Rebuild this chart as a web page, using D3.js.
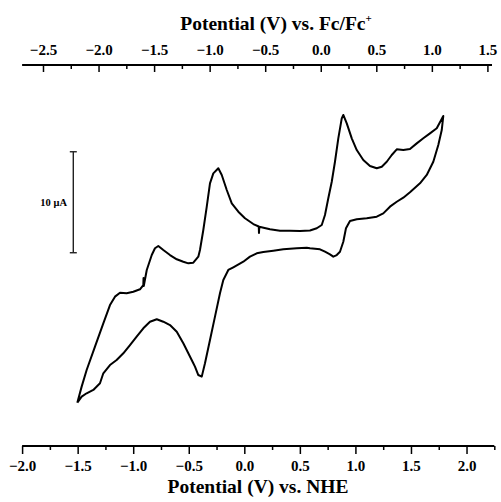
<!DOCTYPE html>
<html>
<head>
<meta charset="utf-8">
<script src="https://cdn.jsdelivr.net/npm/d3@7"></script>
<style>
  html, body { margin: 0; padding: 0; background: #fff; }
  svg { display: block; }
  text { font-family: "Liberation Serif", "Times New Roman", serif; font-weight: bold; fill: #000; }
</style>
</head>
<body>
<svg id="chart" width="501" height="502"></svg>
<script>
// ---- data (potential in V vs. NHE, current in µA) ----
const upperPotential = [-1.503,-1.464,-1.419,-1.344,-1.269,-1.209,-1.164,-1.119,-1.059,-0.999,-0.939,-0.909,-0.907,-0.905,-0.878,-0.833,-0.804,-0.774,-0.729,-0.669,-0.608,-0.549,-0.504,-0.459,-0.414,-0.399,-0.369,-0.338,-0.309,-0.279,-0.234,-0.203,-0.158,-0.113,-0.054,0.006,0.081,0.130,0.132,0.135,0.231,0.321,0.411,0.501,0.591,0.652,0.697,0.726,0.756,0.787,0.816,0.846,0.877,0.891,0.922,0.967,1.012,1.071,1.131,1.192,1.237,1.282,1.327,1.372,1.431,1.491,1.552,1.611,1.671,1.732,1.791];
const upperCurrent = [-16.11,-14.52,-12.87,-10.56,-8.25,-6.44,-5.61,-5.22,-5.28,-5.12,-4.88,-4.46,-3.76,-4.55,-2.97,-1.49,-0.82,-0.59,-0.99,-1.49,-1.91,-2.15,-2.31,-2.25,-1.65,-0.99,0.99,3.30,5.61,6.60,7.10,6.44,4.95,3.63,2.80,2.15,1.58,1.34,0.69,1.32,1.06,0.92,0.92,0.89,0.94,1.16,1.49,2.48,4.13,5.77,7.75,10.07,12.05,12.38,11.55,10.07,8.91,7.92,7.33,7.10,7.26,7.75,8.42,8.98,8.91,9.01,9.57,10.07,10.56,11.06,12.28];
const lowerPotential = [1.791,1.777,1.746,1.701,1.642,1.581,1.491,1.431,1.372,1.311,1.251,1.192,1.102,1.012,0.951,0.915,0.891,0.861,0.832,0.801,0.771,0.726,0.681,0.591,0.562,0.472,0.351,0.261,0.171,0.112,0.051,-0.009,-0.099,-0.144,-0.189,-0.219,-0.264,-0.309,-0.354,-0.383,-0.414,-0.444,-0.459,-0.504,-0.549,-0.608,-0.669,-0.729,-0.788,-0.849,-0.909,-0.969,-1.029,-1.089,-1.149,-1.209,-1.269,-1.299,-1.359,-1.419,-1.464,-1.503];
const lowerCurrent = [12.28,10.89,9.41,7.75,6.44,5.61,4.72,4.19,3.79,3.30,2.64,2.31,2.15,2.05,1.88,1.16,-0.17,-1.16,-1.49,-1.65,-1.42,-1.16,-0.92,-0.82,-0.76,-0.82,-0.92,-1.06,-1.19,-1.32,-1.65,-2.15,-2.70,-2.97,-3.96,-5.28,-7.59,-9.90,-12.21,-13.53,-13.37,-12.54,-12.21,-11.22,-10.23,-9.08,-8.42,-8.09,-7.85,-8.09,-8.74,-9.57,-10.40,-11.22,-11.88,-12.38,-13.20,-14.19,-14.85,-15.18,-15.51,-16.11];

const bottomTicks = [-2.0,-1.5,-1.0,-0.5,0.0,0.5,1.0,1.5,2.0];
const bottomMinorTicks = [-1.75,-1.25,-0.75,-0.25,0.25,0.75,1.25,1.75,2.25];
const topTicks = [-2.5,-2.0,-1.5,-1.0,-0.5,0.0,0.5,1.0,1.5];
const topMinorTicks = [-2.25,-1.75,-1.25,-0.75,-0.25,0.25,0.75,1.25];
const fcOffset = 0.688;           // E(Fc/Fc+) = E(NHE) - offset
const scaleBarValue = [-1.26, 8.74]; // 10 µA scale bar

const svg = d3.select("#chart");

const x = d3.scaleLinear().domain([-2.0, 2.25]).range([22.1, 494.3]);
const xTop = d3.scaleLinear().domain([-2.0 - fcOffset, 2.25 - fcOffset]).range([22.1, 494.3]);
const y = d3.scaleLinear().domain([-20.40, 17.43]).range([446, 64]);

// ---- bottom axis (NHE) ----
const gB = svg.append("g").attr("transform", "translate(0,446)");
gB.call(d3.axisBottom(x).tickValues(bottomMinorTicks).tickSize(4).tickFormat(""))
  .call(g => g.select(".domain").remove());
gB.selectAll(".tick line").attr("stroke", "#000").attr("stroke-width", 1.5);
const gB2 = svg.append("g").attr("transform", "translate(0,446)");
gB2.call(d3.axisBottom(x).tickValues(bottomTicks).tickSize(8).tickSizeOuter(0).tickFormat(d3.format(".1f")));
gB2.select(".domain").attr("stroke", "#000").attr("stroke-width", 2)
   .attr("d", `M${x(-2.0)},0H${x(2.25)}`);
gB2.selectAll(".tick line").attr("stroke", "#000").attr("stroke-width", 1.5);
gB2.selectAll(".tick text").attr("y", 25).attr("dy", null)
   .style("font-size", "15px").style("font-family", "'Liberation Serif','Times New Roman',serif")
   .style("font-weight", "bold").attr("fill", "#000");

// ---- top axis (Fc/Fc+) ----
const gT = svg.append("g").attr("transform", "translate(0,65)");
gT.call(d3.axisTop(xTop).tickValues(topMinorTicks).tickSize(-4).tickFormat(""))
  .call(g => g.select(".domain").remove());
gT.selectAll(".tick line").attr("stroke", "#000").attr("stroke-width", 1.5);
const gT2 = svg.append("g").attr("transform", "translate(0,65)");
gT2.call(d3.axisTop(xTop).tickValues(topTicks).tickSize(-7).tickSizeOuter(0).tickFormat(d3.format(".1f")));
gT2.select(".domain").attr("stroke", "#000").attr("stroke-width", 2)
   .attr("d", `M22.1,0H492`);
gT2.selectAll(".tick line").attr("stroke", "#000").attr("stroke-width", 1.5);
gT2.selectAll(".tick text").attr("y", -10).attr("dy", null)
   .style("font-size", "15px").style("font-family", "'Liberation Serif','Times New Roman',serif")
   .style("font-weight", "bold").attr("fill", "#000");

// ---- axis titles ----
const topTitle = svg.append("text").attr("x", 276).attr("y", 30)
  .attr("text-anchor", "middle").style("font-size", "19.5px");
topTitle.append("tspan").text("Potential (V) vs. Fc/Fc");
topTitle.append("tspan").attr("dy", -8).style("font-size", "11px").text("+");

svg.append("text").attr("x", 258).attr("y", 493)
  .attr("text-anchor", "middle").style("font-size", "19.5px")
  .text("Potential (V) vs. NHE");

// ---- scale bar ----
const sbX = 73.3;
const sb = svg.append("g").attr("stroke", "#222").attr("stroke-width", 1.4);
sb.append("line").attr("x1", sbX).attr("x2", sbX).attr("y1", y(scaleBarValue[0])).attr("y2", y(scaleBarValue[1]));
sb.append("line").attr("x1", sbX - 3.5).attr("x2", sbX + 3.5).attr("y1", y(scaleBarValue[0])).attr("y2", y(scaleBarValue[0]));
sb.append("line").attr("x1", sbX - 3.5).attr("x2", sbX + 3.5).attr("y1", y(scaleBarValue[1])).attr("y2", y(scaleBarValue[1]));
svg.append("text").attr("x", 67).attr("y", (y(scaleBarValue[0]) + y(scaleBarValue[1])) / 2 + 3.5)
  .attr("text-anchor", "end").style("font-size", "10.5px").text("10 \u03BCA");

// ---- CV loop ----
const pts = upperPotential.map((v, i) => [v, upperCurrent[i]])
  .concat(lowerPotential.map((v, i) => [v, lowerCurrent[i]]));
const line = d3.line().x(d => x(d[0])).y(d => y(d[1])).curve(d3.curveLinear);
svg.append("path").datum(pts).attr("d", line)
  .attr("fill", "none").attr("stroke", "#000").attr("stroke-width", 2)
  .attr("stroke-linejoin", "round");
</script>
</body>
</html>
